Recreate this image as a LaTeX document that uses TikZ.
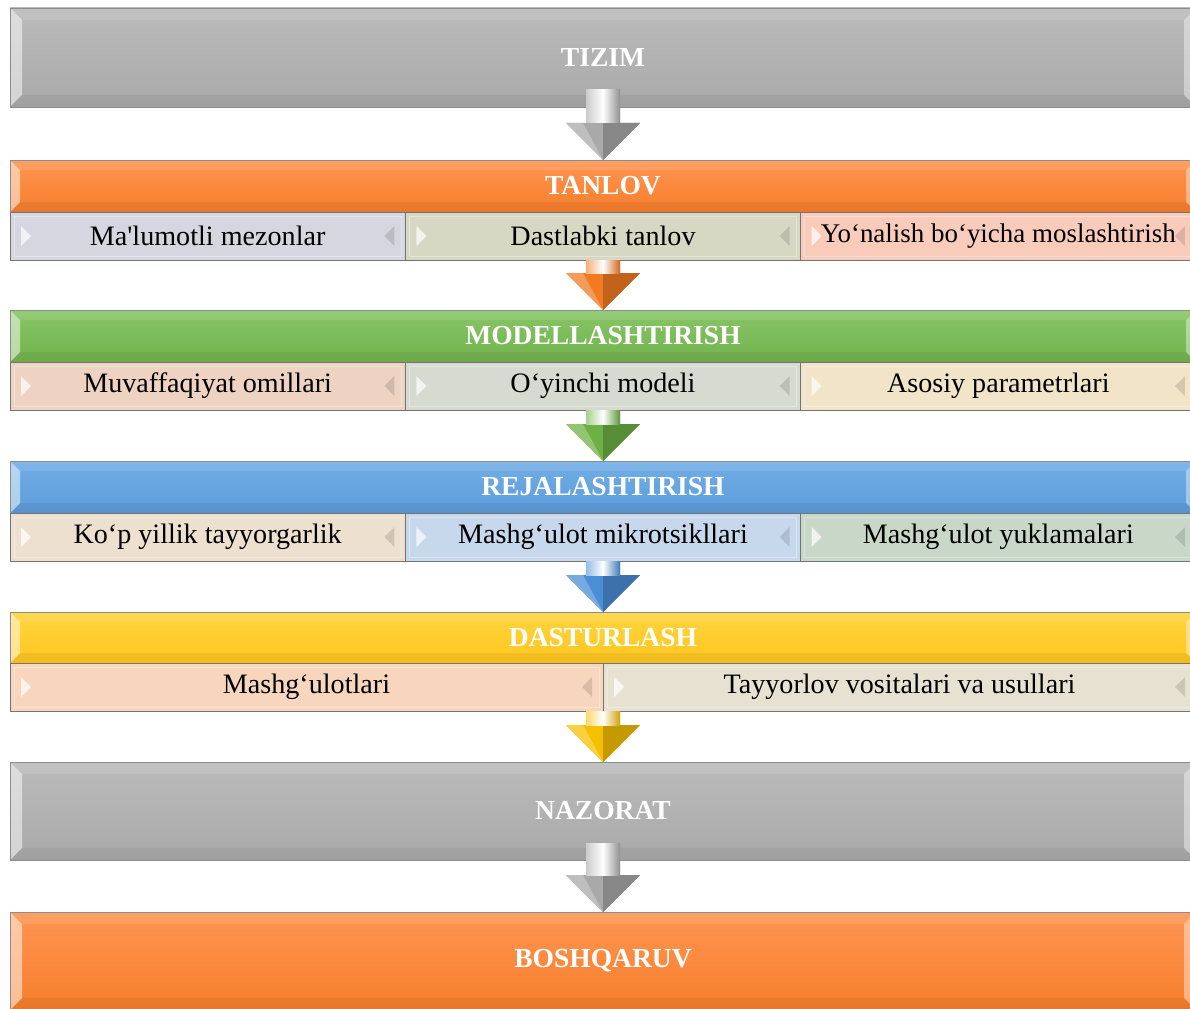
\documentclass[tikz,border=0pt]{standalone}
\usepackage{fontspec}
\setmainfont{Liberation Serif}
\usetikzlibrary{positioning,calc}

\newcommand{\unitpx}{0.03cm}

\definecolor{graytop}{HTML}{BBBBBB}
\definecolor{graybot}{HTML}{A9A9A9}
\definecolor{orangetop}{HTML}{FF9552}
\definecolor{orangebot}{HTML}{F67E2B}
\definecolor{greentop}{HTML}{88C566}
\definecolor{greenbot}{HTML}{72B34E}
\definecolor{bluetop}{HTML}{72AEE7}
\definecolor{bluebot}{HTML}{5C9CDA}
\definecolor{yellowtop}{HTML}{FFD43E}
\definecolor{yellowbot}{HTML}{FFC61F}
\definecolor{arrgray}{HTML}{A9A9A9}
\definecolor{arrorange}{HTML}{F27A22}
\definecolor{arrgreen}{HTML}{6DB043}
\definecolor{arrblue}{HTML}{4A8FD6}
\definecolor{arryellow}{HTML}{F5C000}
\definecolor{sublav}{HTML}{D6D6E0}
\definecolor{subsage}{HTML}{D7D8C4}
\definecolor{subpink}{HTML}{F8CBBA}
\definecolor{subpeach}{HTML}{EED3C2}
\definecolor{subgrey}{HTML}{D6DAD1}
\definecolor{subcream}{HTML}{F1E4C8}
\definecolor{subbeige}{HTML}{EEE0CF}
\definecolor{sublblue}{HTML}{C7D8EC}
\definecolor{sublgreen}{HTML}{C8D7C8}
\definecolor{subapricot}{HTML}{F8D6BE}
\definecolor{substone}{HTML}{E6E1D0}

\tikzset{
  bar/.style={draw=black!45, line width=0.8pt, inner sep=0pt, outer sep=0pt,
    minimum width=1186*\unitpx, text=white,
    font=\bfseries\fontsize{23.5}{26}\selectfont},
  bevel/.style={path picture={
    \fill[white,opacity=.5] (path picture bounding box.north west) -- ++(#1,#1)
      -- ($(path picture bounding box.south west)+(#1,-#1)$) -- (path picture bounding box.south west) -- cycle;
    \fill[white,opacity=.4] (path picture bounding box.north east) -- ++(-#1,#1)
      -- ($(path picture bounding box.south east)+(-#1,-#1)$) -- (path picture bounding box.south east) -- cycle;
    \fill[white,opacity=.1] (path picture bounding box.north west) -- ++(#1,#1)
      -- ($(path picture bounding box.north east)+(-#1,#1)$) -- (path picture bounding box.north east) -- cycle;
    \fill[black,opacity=.05] (path picture bounding box.south west) -- ++(#1,-#1)
      -- ($(path picture bounding box.south east)+(-#1,-#1)$) -- (path picture bounding box.south east) -- cycle;
  }},
  sub/.style={draw=black!55, line width=0.8pt, inner sep=0pt, outer sep=0pt,
    minimum height=48*\unitpx, text=black, font=\fontsize{24}{26}\selectfont,
    path picture={
      \fill[white,opacity=.7] ($(path picture bounding box.west)+(11,-10)$) -- ++(10,10) -- ++(-10,10) -- cycle;
      \fill[black,opacity=.12] ($(path picture bounding box.east)+(-11,-10)$) -- ++(-10,10) -- ++(10,10) -- cycle;
      \draw[white,opacity=.35] ($(path picture bounding box.north west)+(4,4)$) rectangle ($(path picture bounding box.south east)+(-4,-4)$);
    }},
  three/.style={sub, minimum width=395.33*\unitpx},
  two/.style={sub, minimum width=593*\unitpx},
}

% block arrow from a start point down to a bar
\newcommand{\flowarrow}[3]{%
  \coordinate (tip) at (#2.north);
  \coordinate (top) at (#2.north |- #1);
  \fill[#3] ($(top)+(-17,0)$) -- ($(top)+(17,0)$) -- ($(tip)+(17,-37)$) -- ($(tip)+(37,-37)$)
    -- (tip) -- ($(tip)+(-37,-37)$) -- ($(tip)+(-17,-37)$) -- cycle;
  \fill[#3!80!black] (tip) -- ($(tip)+(37,-37)$) -- ($(tip)+(0,-37)$) -- cycle;
  \fill[#3!75!white] (tip) -- ($(tip)+(-37,-37)$) -- ($(tip)+(-20,-37)$) -- cycle;
  \shade[left color=#3!60!white, right color=#3!85!black, middle color=white]
    ($(top)+(-17,0)$) rectangle ($(tip)+(17,-37)$);
}

\begin{document}
\begin{tikzpicture}[x=\unitpx, y=-\unitpx]
  \useasboundingbox (0,0) rectangle (1190,1009);

  \node[bar, minimum height=99*\unitpx, top color=graytop, bottom color=graybot, bevel=12] (tizim) at (603,57.5) {TIZIM};

  % tanlov
  \node[bar, minimum height=52*\unitpx, top color=orangetop, bottom color=orangebot, bevel=10] (tanlov) at (603,186) {TANLOV};
  \node[three, fill=sublav, below right=0pt and 0pt of tanlov.south west] (mezon) {Ma\textquotesingle lumotli mezonlar};
  \node[three, fill=subsage, right=0pt of mezon] (dastlabki) {Dastlabki tanlov};
  \node[three, fill=subpink, right=0pt of dastlabki, font=\fontsize{23}{26}\selectfont] (yonalish) {Yo‘nalish bo‘yicha moslashtirish};

  % modellashtirish
  \node[bar, minimum height=52*\unitpx, top color=greentop, bottom color=greenbot, bevel=10] (model) at (603,336) {MODELLASHTIRISH};
  \node[three, fill=subpeach, below right=0pt and 0pt of model.south west] (omil) {Muvaffaqiyat omillari};
  \node[three, fill=subgrey, right=0pt of omil] (oyinchi) {O‘yinchi modeli};
  \node[three, fill=subcream, right=0pt of oyinchi] (param) {Asosiy parametrlari};

  % rejalashtirish
  \node[bar, minimum height=52*\unitpx, top color=bluetop, bottom color=bluebot, bevel=10] (reja) at (603,487) {REJALASHTIRISH};
  \node[three, fill=subbeige, below right=0pt and 0pt of reja.south west] (kopyil) {Ko‘p yillik tayyorgarlik};
  \node[three, fill=sublblue, right=0pt of kopyil] (mikro) {Mashg‘ulot mikrotsikllari};
  \node[three, fill=sublgreen, right=0pt of mikro] (yuklama) {Mashg‘ulot yuklamalari};

  % dasturlash
  \node[bar, minimum height=51*\unitpx, top color=yellowtop, bottom color=yellowbot, bevel=10] (dastur) at (603,637.5) {DASTURLASH};
  \node[two, fill=subapricot, below right=0pt and 0pt of dastur.south west] (mashg) {Mashg‘ulotlari};
  \node[two, fill=substone, right=0pt of mashg] (vosita) {Tayyorlov vositalari va usullari};

  \node[bar, minimum height=98*\unitpx, top color=graytop, bottom color=graybot, bevel=12] (nazorat) at (603,811) {NAZORAT};
  \node[bar, minimum height=98*\unitpx, top color=orangetop, bottom color=orangebot, bevel=12] (boshq) at (603,961) {BOSHQARUV};

  % arrows
  \coordinate (s1) at ($(tizim.south)+(0,-17)$);
  \coordinate (s6) at ($(nazorat.south)+(0,-17)$);
  \flowarrow{s1}{tanlov}{arrgray}
  \flowarrow{dastlabki.south}{model}{arrorange}
  \flowarrow{oyinchi.south}{reja}{arrgreen}
  \flowarrow{mikro.south}{dastur}{arrblue}
  \flowarrow{vosita.south}{nazorat}{arryellow}
  \flowarrow{s6}{boshq}{arrgray}
\end{tikzpicture}
\end{document}
